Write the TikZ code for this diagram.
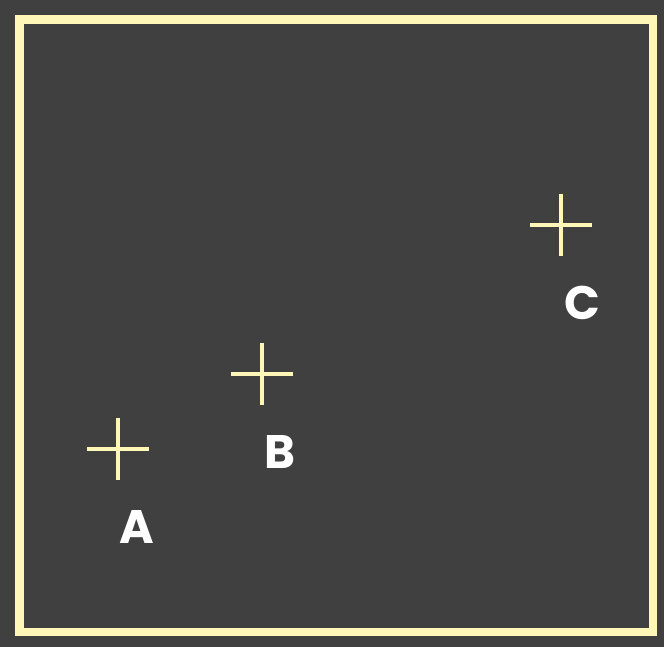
\documentclass[tikz,border=0pt]{standalone}
\usepackage{fontspec}
\setmainfont{Poppins}
\usetikzlibrary{positioning}

\definecolor{board}{HTML}{404040}
\definecolor{cream}{HTML}{FFF7B8}

\begin{document}
\begin{tikzpicture}[x=1pt,y=-1pt,
  crossline/.style={cream,line width=4.5pt},
  letter/.style={text=white,inner sep=0pt,font=\bfseries\fontsize{47}{47}\selectfont}]
  \fill[board] (0,0) rectangle (664,647);
  \draw[cream,line width=8.5pt] (19.5,19.5) rectangle (653,632);

  % the three points
  \coordinate (A) at (118,449);
  \coordinate (B) at (262,374);
  \coordinate (C) at (561,225);

  \foreach \p in {A,B,C}
    \draw[crossline] ([xshift=-31pt]\p) -- ([xshift=31pt]\p)
                     ([yshift=-31pt]\p) -- ([yshift=31pt]\p);

  \node[letter] (labA) at ([xshift=19pt,yshift=-78pt]A) {A};
  \node[letter] (labB) at ([xshift=18pt,yshift=-78pt]B) {B};
  \node[letter] (labC) at ([xshift=21pt,yshift=-78pt]C) {C};
\end{tikzpicture}
\end{document}
